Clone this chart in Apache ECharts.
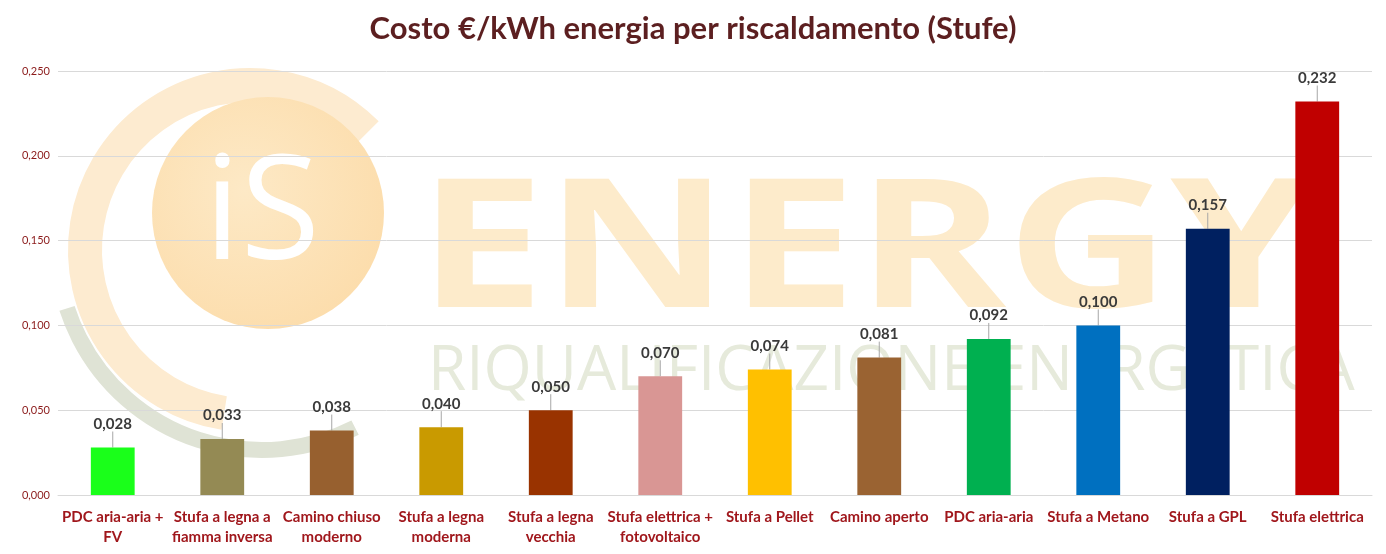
<!DOCTYPE html>
<html>
<head>
<meta charset="utf-8">
<title>Costo €/kWh energia per riscaldamento (Stufe)</title>
<script src="https://cdn.jsdelivr.net/npm/echarts@6/dist/echarts.min.js"></script>
<style>
  html, body { margin: 0; padding: 0; background: #fff; }
  #chart { width: 1386px; height: 554px; }
</style>
</head>
<body>
<div id="chart"></div>
<script>
const categories = [
  'PDC aria-aria +\nFV',
  'Stufa a legna a\nfiamma inversa',
  'Camino chiuso\nmoderno',
  'Stufa a legna\nmoderna',
  'Stufa a legna\nvecchia',
  'Stufa elettrica +\nfotovoltaico',
  'Stufa a Pellet',
  'Camino aperto',
  'PDC aria-aria',
  'Stufa a Metano',
  'Stufa a GPL',
  'Stufa elettrica'
]
const costs = [0.028, 0.033, 0.038, 0.040, 0.050, 0.070, 0.074, 0.081, 0.092, 0.100, 0.157, 0.232]
const barColors = [
  '#1aff1a', '#948a54', '#97602f', '#c99a00', '#993300', '#d99694',
  '#ffc000', '#9a6332', '#00b050', '#0070c0', '#002060', '#c00000'
]

const fmt = v => v.toFixed(3).replace('.', ',')

const chart = echarts.init(document.getElementById('chart'))

// filigrana del logo sullo sfondo
const watermark = [
  {
    type: 'arc', z: -10, silent: true,
    shape: { cx: 250, cy: 250, r: 165, startAngle: Math.PI * 0.55, endAngle: Math.PI * 1.75 },
    style: { stroke: '#fdebd0', fill: null, lineWidth: 34 }
  },
  {
    type: 'arc', z: -10, silent: true,
    shape: { cx: 262, cy: 245, r: 205, startAngle: Math.PI * 0.35, endAngle: Math.PI * 0.9 },
    style: { stroke: '#dfe3d5', fill: null, lineWidth: 16 }
  },
  {
    type: 'circle', z: -10, silent: true,
    shape: { cx: 268, cy: 213, r: 116 },
    style: {
      fill: new echarts.graphic.RadialGradient(0.4, 0.4, 0.7, [
        { offset: 0, color: '#fde9c6' },
        { offset: 1, color: '#fcdcaa' }
      ])
    }
  },
  {
    type: 'text', z: -9, silent: true,
    style: {
      x: 262, y: 218, text: 'iS', fill: '#ffffff', fontSize: 145,
      fontFamily: 'Open Sans', align: 'center', verticalAlign: 'middle'
    }
  },
  {
    type: 'text', z: -10, silent: true,
    x: 418, y: 256, scaleX: 1.26,
    style: {
      x: 0, y: 0, text: 'ENERGY', fill: '#fdebcb', fontSize: 180, fontWeight: 'bold',
      fontFamily: 'Open Sans', verticalAlign: 'middle'
    }
  },
  {
    type: 'text', z: -10, silent: true,
    style: {
      x: 428, y: 372, text: 'RIQUALIFICAZIONE ENERGETICA', fill: '#e6eadb', fontSize: 62,
      fontFamily: 'Open Sans', verticalAlign: 'middle'
    }
  }
]

const option = {
  animation: false,
  title: {
    text: 'Costo €/kWh energia per riscaldamento (Stufe)',
    left: 'center',
    top: 8,
    textStyle: {
      color: '#5c1f20',
      fontSize: 31,
      fontWeight: 'bold',
      fontFamily: 'Lato'
    }
  },
  graphic: watermark,
  grid: {
    left: 58,
    right: 14,
    top: 71,
    bottom: 59
  },
  xAxis: {
    type: 'category',
    data: categories,
    axisLine: {
      lineStyle: {
        color: '#d9d9d9'
      }
    },
    axisTick: {
      show: false
    },
    axisLabel: {
      color: '#a0171c',
      fontSize: 15,
      fontWeight: 'bold',
      fontFamily: 'Lato',
      lineHeight: 20,
      margin: 12,
      interval: 0
    }
  },
  yAxis: {
    type: 'value',
    min: 0,
    max: 0.25,
    interval: 0.05,
    axisLine: {
      show: false
    },
    axisTick: {
      show: false
    },
    axisLabel: {
      color: '#8b1a1a',
      fontSize: 11,
      fontFamily: 'Lato',
      margin: 8,
      formatter: fmt
    },
    splitLine: {
      lineStyle: {
        color: '#d9d9d9'
      }
    }
  },
  series: [
    {
      type: 'bar',
      barWidth: '40%',
      data: costs.map((v, i) => ({ value: v, itemStyle: { color: barColors[i] } })),
      label: {
        show: true,
        position: 'top',
        distance: 4,
        color: '#3a3a3a',
        fontSize: 15,
        fontWeight: 'bold',
        fontFamily: 'Lato',
        formatter: p => fmt(p.value)
      },
      labelLayout: {
        dy: -12
      },
      labelLine: {
        show: true,
        lineStyle: {
          color: '#a6a6a6',
          width: 1
        }
      }
    }
  ]
}

chart.setOption(option)
</script>
</body>
</html>
